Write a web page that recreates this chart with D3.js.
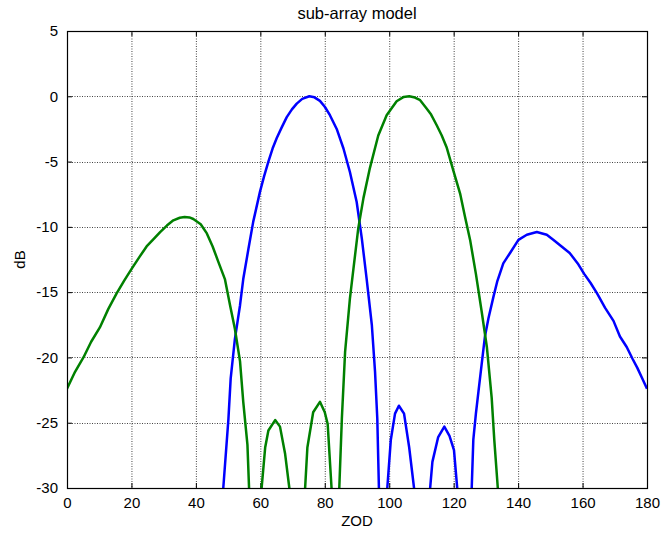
<!DOCTYPE html>
<html>
<head>
<meta charset="utf-8">
<script src="https://cdn.jsdelivr.net/npm/d3@7"></script>
<style>
  body { margin: 0; background: #fff; }
  text { font-family: "Liberation Sans", Arial, sans-serif; fill: #000; }
</style>
</head>
<body>
<div id="chart"></div>
<script>
/** Chart text and ticks */
const chartTitle = "sub-array model";
const xLabel = "ZOD";
const yLabel = "dB";
const xTicks = [0, 20, 40, 60, 80, 100, 120, 140, 160, 180];
const yTicks = [5, 0, -5, -10, -15, -20, -25, -30];

/** Blue beam (nulls dip below the axis floor) */
const blueZod = [47, 48.5, 50.1, 50.8, 52.1, 53.7, 54.7, 56.3, 57.8, 59.9, 61.2, 62.5, 63.8, 65.1, 66.6, 68.2,
  69.8, 71.3, 73, 75.2, 76.8, 78.5, 80, 81.6, 83.7, 85.8, 87.8, 89.9, 91.5, 93, 94.6, 95.6, 96.3, 96.8, 98.1,
  99.4, 100.5, 101.8, 103, 104.6, 106.2, 107.7, 110.2, 112.7, 113.4, 115.2, 117.1, 118.7, 120.1, 121.1, 123.3,
  125.6, 126.1, 126.9, 127.7, 128.7, 129.7, 130.8, 132.3, 133.5, 135.4, 137.5, 140.1, 142.7, 145.8, 148.9,
  151, 153.5, 156, 158.5, 160.5, 162.5, 164.5, 167, 169.6, 171.6, 173.7, 175.5, 177, 178.5, 180];
const blueDb = [-40, -30, -24.7, -21.6, -18.6, -16.0, -14.0, -11.7, -9.6, -7.3, -6.1, -5.0, -4.0, -3.2, -2.4, -1.6,
  -1.0, -0.56, -0.2, 0, -0.08, -0.35, -0.8, -1.45, -2.5, -4.0, -5.8, -8.1, -10.9, -14.0, -17.5, -21.1, -24.7, -30, -40,
  -30, -26.3, -24.3, -23.7, -24.3, -26.9, -30, -40, -30, -28.0, -26.1, -25.3, -26.0, -27.1, -30, -40,
  -30, -26.3, -24.3, -22.6, -20.5, -18.4, -17.0, -15.4, -14.2, -12.8, -12.0, -11.0, -10.6, -10.4, -10.6,
  -11.0, -11.5, -12.0, -12.8, -13.6, -14.3, -15.1, -16.2, -17.2, -18.4, -19.2, -20.1, -20.8, -21.6, -22.4];

/** Green beam */
const greenZod = [0, 2.5, 5.1, 7.5, 10.2, 12.8, 15.4, 17.8, 20.1, 22.5, 24.7, 27, 28.9, 31, 33, 35, 36.5, 38,
  39.2, 41.5, 43.4, 45.2, 47, 49, 50.6, 52.1, 53.7, 54.7, 56, 56.5, 58.5, 60.4, 61.5, 62.5, 64.6, 66.1, 67.7,
  69, 71.5, 73.9, 74.6, 76.4, 78.5, 80, 80.9, 82.1, 83.3, 84.5, 85.3, 86.3, 87.8, 88.9, 90.4, 92, 94, 96.6,
  99.2, 102.3, 104.5, 106.2, 108, 109.6, 111.6, 113, 114.7, 116.3, 117.8, 119.9, 122, 123.5, 125.1, 126.9,
  128.7, 130.3, 131.8, 132.6, 133.7, 135.5];
const greenDb = [-22.4, -21.1, -20.0, -18.8, -17.7, -16.3, -15.1, -14.1, -13.2, -12.3, -11.5, -10.9, -10.4, -9.9,
  -9.5, -9.3, -9.25, -9.28, -9.4, -9.8, -10.5, -11.5, -12.7, -14.0, -16.0, -17.8, -20.3, -23.4, -26.7, -30, -40,
  -30, -26.9, -25.6, -24.8, -25.3, -27.4, -30, -40, -30, -26.9, -24.2, -23.4, -24.2, -25.1, -30, -40,
  -30, -24.7, -19.6, -15.5, -13.2, -10.1, -7.8, -5.5, -3.0, -1.45, -0.38, -0.05, 0, -0.1, -0.3, -0.94, -1.4,
  -2.2, -3.0, -3.9, -5.7, -7.45, -9.2, -11.0, -13.6, -16.5, -19.2, -23.1, -26.3, -30, -40];

const series = [
  { name: "blue", color: "#0000ff", points: d3.zip(blueZod, blueDb) },
  { name: "green", color: "#008000", points: d3.zip(greenZod, greenDb) }
];

/** svg properties */
const svgProps = {};
svgProps.outerWidth = 665;
svgProps.outerHeight = 535;
svgProps.margin = { top: 31, right: 18, bottom: 47, left: 67 };
svgProps.innerWidth = svgProps.outerWidth - svgProps.margin.left - svgProps.margin.right;
svgProps.innerHeight = svgProps.outerHeight - svgProps.margin.top - svgProps.margin.bottom;
svgProps.tickLen = 5;

const xScale = d3.scaleLinear()
  .domain([0, 180])
  .range([0, svgProps.innerWidth])
;

const yScale = d3.scaleLinear()
  .domain([-30, 5])
  .range([svgProps.innerHeight, 0])
;

const svg = d3.select("#chart")
  .append("svg")
  .attr("width", svgProps.outerWidth)
  .attr("height", svgProps.outerHeight)
;

svg.append("defs")
  .append("clipPath")
  .attr("id", "plot-clip")
  .append("rect")
  .attr("width", svgProps.innerWidth)
  .attr("height", svgProps.innerHeight)
;

const plot = svg.append("g")
  .attr("transform", "translate(" + svgProps.margin.left + "," + svgProps.margin.top + ")")
;

/** Dotted grid */
const grid = plot.append("g").attr("id", "grid");
grid.selectAll("line.gx")
  .data(xTicks.slice(1, -1))
  .enter()
  .append("line")
  .attr("class", "gx")
  .attr("x1", (d) => xScale(d) + 0.5)
  .attr("x2", (d) => xScale(d) + 0.5)
  .attr("y1", 0)
  .attr("y2", svgProps.innerHeight)
;
grid.selectAll("line.gy")
  .data(yTicks.slice(1, -1))
  .enter()
  .append("line")
  .attr("class", "gy")
  .attr("x1", 0)
  .attr("x2", svgProps.innerWidth)
  .attr("y1", (d) => Math.round(yScale(d)) + 0.5)
  .attr("y2", (d) => Math.round(yScale(d)) + 0.5)
;
grid.selectAll("line")
  .attr("stroke", "#444")
  .attr("stroke-width", 1)
  .attr("stroke-dasharray", "1,1.5")
;

/** Axes: MATLAB style, ticks inward on all four sides, plain hyphen minus */
const plainNum = (d) => String(d);
const xAxisBottom = d3.axisBottom(xScale).tickValues(xTicks).tickSizeInner(-svgProps.tickLen).tickSizeOuter(0).tickPadding(9).tickFormat(plainNum);
const xAxisTop = d3.axisTop(xScale).tickValues(xTicks).tickSizeInner(-svgProps.tickLen).tickSizeOuter(0).tickFormat("");
const yAxisLeft = d3.axisLeft(yScale).tickValues(yTicks).tickSizeInner(-svgProps.tickLen).tickSizeOuter(0).tickPadding(9).tickFormat(plainNum);
const yAxisRight = d3.axisRight(yScale).tickValues(yTicks).tickSizeInner(-svgProps.tickLen).tickSizeOuter(0).tickFormat("");

plot.append("g").attr("id", "x-axis").attr("transform", "translate(0," + svgProps.innerHeight + ")").call(xAxisBottom);
plot.append("g").attr("id", "x-axis-top").call(xAxisTop);
plot.append("g").attr("id", "y-axis").call(yAxisLeft);
plot.append("g").attr("id", "y-axis-right").attr("transform", "translate(" + svgProps.innerWidth + ",0)").call(yAxisRight);

plot.selectAll(".domain").remove();
plot.selectAll(".tick line").attr("stroke", "#000");
plot.selectAll(".tick text")
  .style("font-family", "'Liberation Sans', Arial, sans-serif")
  .style("font-size", "15px")
;

/** Curves */
const line = d3.line()
  .x((d) => xScale(d[0]))
  .y((d) => yScale(d[1]))
;

plot.append("g")
  .attr("clip-path", "url(#plot-clip)")
  .selectAll("path")
  .data(series)
  .enter()
  .append("path")
  .attr("d", (d) => line(d.points))
  .attr("fill", "none")
  .attr("stroke", (d) => d.color)
  .attr("stroke-width", 2.5)
  .attr("stroke-linejoin", "round")
;

/** Box round the plot */
plot.append("rect")
  .attr("x", 0.5)
  .attr("y", 0.5)
  .attr("width", svgProps.innerWidth)
  .attr("height", svgProps.innerHeight)
  .attr("fill", "none")
  .attr("stroke", "#000")
  .attr("stroke-width", 1.2)
;

/** Title and labels */
svg.append("text")
  .attr("x", svgProps.margin.left + svgProps.innerWidth / 2)
  .attr("y", 19)
  .attr("text-anchor", "middle")
  .style("font-size", "16.5px")
  .text(chartTitle)
;
svg.append("text")
  .attr("x", svgProps.margin.left + svgProps.innerWidth / 2)
  .attr("y", 526)
  .attr("text-anchor", "middle")
  .style("font-size", "15px")
  .text(xLabel)
;
svg.append("text")
  .attr("transform", "translate(25," + (svgProps.margin.top + svgProps.innerHeight / 2) + ") rotate(-90)")
  .attr("text-anchor", "middle")
  .style("font-size", "15px")
  .text(yLabel)
;
</script>
</body>
</html>
